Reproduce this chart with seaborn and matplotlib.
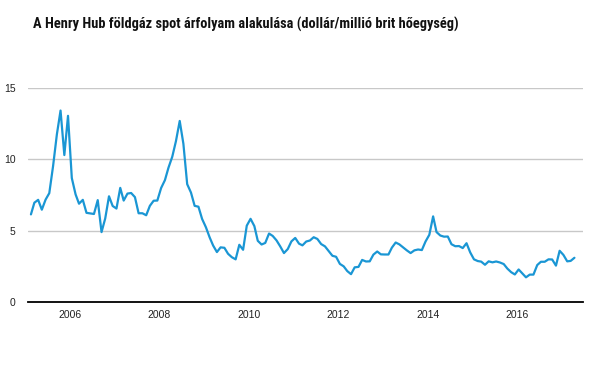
import numpy as np
import pandas as pd
import matplotlib
matplotlib.use('Agg')
import matplotlib.pyplot as plt
import matplotlib.dates as mdates
from matplotlib import font_manager
import seaborn as sns

# Henry Hub havi spot árak (USD/MMBtu), 2005-02 .. 2017-04
start_month = '2005-02'
prices = [
    6.14, 6.96, 7.16, 6.47, 7.18, 7.63, 9.53, 11.75, 13.42, 10.30, 13.05,          # 2005
    8.69, 7.54, 6.89, 7.16, 6.25, 6.21, 6.17, 7.14, 4.90, 5.85, 7.41, 6.73,        # 2006
    6.55, 8.00, 7.11, 7.60, 7.64, 7.35, 6.22, 6.22, 6.08, 6.74, 7.10, 7.11,        # 2007
    7.99, 8.54, 9.41, 10.18, 11.27, 12.69, 11.09, 8.26, 7.67, 6.74, 6.68, 5.82,    # 2008
    5.24, 4.52, 3.96, 3.50, 3.83, 3.80, 3.38, 3.14, 2.99, 4.01, 3.66, 5.35,        # 2009
    5.83, 5.32, 4.29, 4.03, 4.14, 4.80, 4.63, 4.32, 3.89, 3.43, 3.71, 4.25,        # 2010
    4.49, 4.09, 3.97, 4.24, 4.31, 4.54, 4.42, 4.06, 3.90, 3.57, 3.24, 3.17,        # 2011
    2.67, 2.50, 2.17, 1.95, 2.43, 2.46, 2.95, 2.84, 2.85, 3.32, 3.54, 3.34,        # 2012
    3.33, 3.33, 3.81, 4.17, 4.04, 3.83, 3.62, 3.43, 3.62, 3.68, 3.64, 4.24,        # 2013
    4.71, 6.00, 4.90, 4.66, 4.58, 4.59, 4.05, 3.91, 3.92, 3.78, 4.12, 3.48,        # 2014
    2.99, 2.87, 2.83, 2.61, 2.85, 2.78, 2.84, 2.77, 2.66, 2.34, 2.09, 1.93,        # 2015
    2.28, 1.99, 1.73, 1.92, 1.92, 2.59, 2.82, 2.82, 2.99, 2.98, 2.55, 3.59,        # 2016
    3.30, 2.85, 2.88, 3.10,                                                        # 2017
]
year_ticks = [2006, 2008, 2010, 2012, 2014, 2016]
y_ticks = [0, 5, 10, 15]
title = 'A Henry Hub földgáz spot árfolyam alakulása (dollár/millió brit hőegység)'

df = pd.DataFrame({
    'datum': pd.date_range(start_month, periods=len(prices), freq='MS') + pd.Timedelta(days=14),
    'ar': prices,
})

sns.set_style('white')
plt.rcParams['font.family'] = ['Liberation Sans', 'DejaVu Sans']

# keskeny félkövér betű a címhez, ha van
title_font = None
for f in font_manager.fontManager.ttflist:
    name = f.fname.lower()
    if ('condensed' in name or 'narrow' in name) and 'bold' in name and 'italic' not in name and 'oblique' not in name:
        if 'roboto' in name or 'liberation' in name:
            title_font = font_manager.FontProperties(fname=f.fname)
            break
if title_font is None:
    for f in font_manager.fontManager.ttflist:
        name = f.fname.lower()
        if 'condensed' in name and 'bold' in name and 'oblique' not in name:
            title_font = font_manager.FontProperties(fname=f.fname)
            break
if title_font is None:
    title_font = font_manager.FontProperties(family='Roboto', weight='bold')

fig = plt.figure(figsize=(6.02, 3.68), dpi=100)
ax = fig.add_axes([28 / 602, 66 / 368, 555 / 602, 214 / 368])

sns.lineplot(data=df, x='datum', y='ar', ax=ax, color='#1a96d4', linewidth=1.6)

ax.set_xlim(pd.Timestamp('2005-01-22'), pd.Timestamp('2017-06-24'))
ax.set_ylim(0, 15)
ax.set_yticks(y_ticks)
ax.set_xticks([pd.Timestamp(f'{y}-01-01') for y in year_ticks])
ax.xaxis.set_major_formatter(mdates.DateFormatter('%Y'))
ax.set_xlabel('')
ax.set_ylabel('')

for v in y_ticks[1:]:
    ax.axhline(v, color='#c8c8c8', linewidth=1, zorder=0)

for side in ['top', 'right', 'left']:
    ax.spines[side].set_visible(False)
ax.spines['bottom'].set_color('black')
ax.spines['bottom'].set_linewidth(1.3)

ax.tick_params(axis='x', length=4, width=1, color='black', pad=2, labelsize=7.5, labelcolor='#222222')
ax.tick_params(axis='y', length=0, pad=9, labelsize=7.5, labelcolor='#222222')

fig.text(33 / 602, 1 - 24 / 368, title, fontproperties=title_font, fontsize=10.4,
         va='center', ha='left', color='#111111')

fig.savefig('out.png', dpi=100)
